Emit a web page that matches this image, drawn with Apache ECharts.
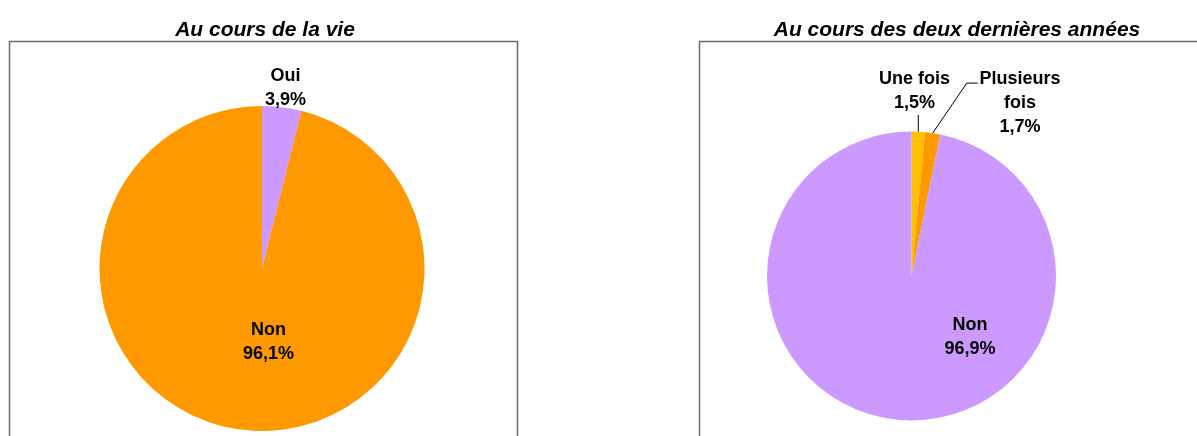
<!DOCTYPE html>
<html>
<head>
<meta charset="utf-8">
<script src="https://cdn.jsdelivr.net/npm/echarts@6/dist/echarts.min.js"></script>
<style>
  html, body { margin: 0; padding: 0; background: #ffffff; }
  #chart { width: 1197px; height: 436px; }
</style>
</head>
<body>
<div id="chart"></div>
<script>
// Survey answers, in percent
const lifeTitle = 'Au cours de la vie';
const lifeCategories = ['Oui', 'Non'];
const lifeValues = [3.9, 96.1];

const recentTitle = 'Au cours des deux dernières années';
const recentCategories = ['Une fois', 'Plusieurs fois', 'Non'];
const recentValues = [1.5, 1.7, 96.9];

// Slice colours
const lifeColors = ['#CC99FF', '#FF9900'];
const recentColors = ['#FFC000', '#FF9900', '#CC99FF'];

const FONT = '"Liberation Sans Narrow", "Arial Narrow", "Liberation Sans", Arial, sans-serif';

// Label placement relative to the slice's bounding box centre, per slice index
const lifeLabelShift = [[3.8, -99], [6.5, 73.5]];
const recentLabelShift = [[-3.8, -113], [94.1, -101.2], [58.5, 60.7]];

// Leader lines, relative to the top-centre of the slice's bounding box
const recentLeaders = [
  [[0, 0.2], [0, -16.5]],
  [[6.8, 1], [40.8, -49], [51.8, -49]],
  null
];

function pct(v) {
  return v.toFixed(1).replace('.', ',') + '%';
}
function wrapName(n) {
  return n.length > 10 ? n.replace(' ', '\n') : n;
}

function makeLayout(shifts, leaders) {
  return function (p) {
    const r = p.rect;
    const cx = r.x + r.width / 2;
    const cy = r.y + r.height / 2;
    const s = shifts[p.dataIndex];
    const out = {
      x: cx + s[0],
      y: cy + s[1],
      align: 'center',
      verticalAlign: 'middle'
    };
    const lead = leaders && leaders[p.dataIndex];
    if (lead) {
      out.labelLinePoints = lead.map(function (q) { return [cx + q[0], r.y + q[1]]; });
    }
    return out;
  };
}

function buildData(names, values, colors, outsideIdx, withLine) {
  return names.map(function (n, i) {
    const outside = outsideIdx.indexOf(i) >= 0;
    return {
      name: n,
      value: values[i],
      itemStyle: { color: colors[i] },
      label: { position: outside ? 'outside' : 'inside' },
      labelLine: { show: !!(withLine && outside), length: 10, length2: 0 }
    };
  });
}

const labelStyle = {
  show: true,
  color: '#000000',
  fontFamily: FONT,
  fontWeight: 'bold',
  fontSize: 18,
  lineHeight: 24,
  formatter: function (p) { return wrapName(p.name) + '\n' + pct(p.value); }
};

const titleStyle = { fontFamily: FONT, fontSize: 21, fontWeight: 'bold', fontStyle: 'italic', color: '#000' };

const chart = echarts.init(document.getElementById('chart'), null, { renderer: 'canvas' });

chart.setOption({
  animation: false,
  backgroundColor: '#ffffff',
  title: [
    { text: lifeTitle, left: 265, top: 20, padding: 0, textAlign: 'center', textStyle: titleStyle },
    { text: recentTitle, left: 957, top: 20, padding: 0, textAlign: 'center', textStyle: titleStyle }
  ],
  graphic: [
    {
      type: 'rect', silent: true, z: -1,
      shape: { x: 9.5, y: 41.5, width: 508, height: 520 },
      style: { fill: null, stroke: '#6b6b6b', lineWidth: 1.5 }
    },
    {
      type: 'rect', silent: true, z: -1,
      shape: { x: 699.5, y: 41.5, width: 600, height: 520 },
      style: { fill: null, stroke: '#6b6b6b', lineWidth: 1.5 }
    }
  ],
  series: [
    {
      type: 'pie',
      center: [262, 268.5],
      radius: 162.5,
      startAngle: 90,
      clockwise: true,
      avoidLabelOverlap: false,
      itemStyle: { borderWidth: 0 },
      emphasis: { disabled: true },
      label: labelStyle,
      labelLine: { show: false },
      labelLayout: makeLayout(lifeLabelShift, null),
      data: buildData(lifeCategories, lifeValues, lifeColors, [0], false)
    },
    {
      type: 'pie',
      center: [911.5, 276],
      radius: 144.5,
      startAngle: 90,
      clockwise: true,
      avoidLabelOverlap: false,
      itemStyle: { borderWidth: 0 },
      emphasis: { disabled: true },
      label: labelStyle,
      labelLine: { show: true, lineStyle: { color: '#000000', width: 1 } },
      labelLayout: makeLayout(recentLabelShift, recentLeaders),
      data: buildData(recentCategories, recentValues, recentColors, [0, 1], true)
    }
  ]
});
</script>
</body>
</html>
